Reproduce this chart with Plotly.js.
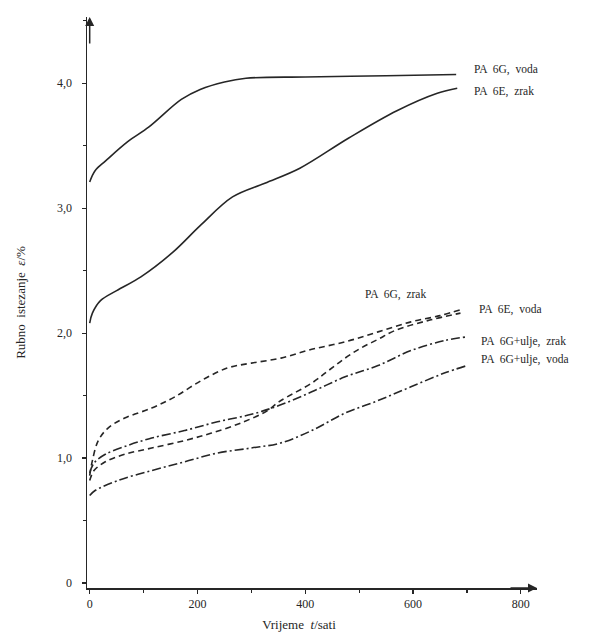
<!DOCTYPE html>
<html>
<head>
<meta charset="utf-8">
<script src="https://cdn.plot.ly/plotly-3.0.1.min.js"></script>
<style>html,body{margin:0;padding:0;background:#fff;}#chart{width:605px;height:639px;}</style>
</head>
<body>
<div id="chart"></div>
<script>
// Series data (time in hours, edge elongation in %)
const pa6gVodaX = [0, 10, 30, 70, 110, 170, 205, 250, 290, 400, 550, 680];
const pa6gVodaY = [3.21, 3.30, 3.38, 3.53, 3.65, 3.87, 3.95, 4.01, 4.04, 4.05, 4.06, 4.07];

const pa6eZrakX = [0, 5, 20, 50, 95, 155, 205, 265, 325, 390, 480, 570, 645, 682];
const pa6eZrakY = [2.08, 2.16, 2.26, 2.34, 2.45, 2.65, 2.86, 3.09, 3.20, 3.32, 3.56, 3.78, 3.92, 3.96];

const pa6gZrakX = [0, 5, 16, 34, 65, 115, 158, 207, 255, 300, 355, 412, 474, 535, 596, 650, 690];
const pa6gZrakY = [0.86, 0.98, 1.14, 1.24, 1.32, 1.40, 1.49, 1.62, 1.72, 1.76, 1.80, 1.87, 1.93, 2.01, 2.09, 2.14, 2.19];

const pa6eVodaX = [0, 8, 29, 65, 115, 176, 226, 280, 330, 351, 412, 443, 474, 503, 535, 566, 627, 688];
const pa6eVodaY = [0.82, 0.90, 0.97, 1.03, 1.08, 1.14, 1.20, 1.28, 1.38, 1.45, 1.60, 1.70, 1.80, 1.88, 1.95, 2.02, 2.10, 2.16];

const pa6gUljeZrakX = [0, 8, 29, 70, 115, 176, 237, 300, 351, 412, 474, 535, 596, 658, 700];
const pa6gUljeZrakY = [0.88, 0.96, 1.03, 1.10, 1.16, 1.22, 1.29, 1.35, 1.42, 1.53, 1.65, 1.74, 1.86, 1.94, 1.97];

const pa6gUljeVodaX = [0, 10, 52, 115, 176, 237, 299, 354, 412, 474, 535, 596, 658, 700];
const pa6gUljeVodaY = [0.70, 0.74, 0.82, 0.90, 0.97, 1.04, 1.08, 1.12, 1.22, 1.36, 1.46, 1.57, 1.68, 1.74];

const yTickVals = [0, 1, 2, 3, 4];
const yTickText = ["0", "1,0", "2,0", "3,0", "4,0"];
const xTickVals = [0, 200, 400, 600, 800];
const xTickText = ["0", "200", "400", "600", "800"];

const curveLabels = [
  {text: "PA  6G,  voda", x: 710, y: 4.11},
  {text: "PA  6E,  zrak", x: 710, y: 3.93},
  {text: "PA  6G,  zrak", x: 507, y: 2.31},
  {text: "PA  6E,  voda", x: 719, y: 2.19},
  {text: "PA  6G+ulje,  zrak", x: 723, y: 1.93},
  {text: "PA  6G+ulje,  voda", x: 723, y: 1.79}
];

const FONT = "Liberation Serif, Times New Roman, serif";
const INK = "#262626";

function tr(x, y, dash) {
  return {x: x, y: y, type: "scatter", mode: "lines",
    line: {color: INK, width: 1.6, shape: "spline", smoothing: 1, dash: dash},
    hoverinfo: "skip", showlegend: false};
}

const data = [
  tr(pa6gVodaX, pa6gVodaY, "solid"),
  tr(pa6eZrakX, pa6eZrakY, "solid"),
  tr(pa6gZrakX, pa6gZrakY, "6px,4px"),
  tr(pa6eVodaX, pa6eVodaY, "6px,4px"),
  tr(pa6gUljeZrakX, pa6gUljeZrakY, "9px,3px,2px,3px"),
  tr(pa6gUljeVodaX, pa6gUljeVodaY, "9px,3px,2px,3px")
];

const annotations = curveLabels.map(l => ({
  text: l.text, x: l.x, y: l.y, xref: "x", yref: "y",
  xanchor: "left", yanchor: "middle", showarrow: false,
  font: {family: FONT, size: 11.5, color: INK}
}));
// axis arrows
annotations.push({x: 0, y: 4.53, xref: "x", yref: "y", ax: 0, ay: 28, axref: "pixel", ayref: "pixel",
  text: "", showarrow: true, arrowhead: 2, arrowsize: 1.2, arrowwidth: 1.5, arrowcolor: INK});
annotations.push({x: 830, y: -0.04, xref: "x", yref: "y", ax: -28, ay: 0, axref: "pixel", ayref: "pixel",
  text: "", showarrow: true, arrowhead: 2, arrowsize: 1.2, arrowwidth: 1.5, arrowcolor: INK});

const layout = {
  width: 605, height: 639,
  margin: {l: 87, r: 68, t: 17, b: 51},
  paper_bgcolor: "#fff", plot_bgcolor: "#fff",
  font: {family: FONT, size: 12, color: INK},
  showlegend: false,
  xaxis: {
    range: [-5, 830], showgrid: false, zeroline: false,
    showline: true, linecolor: INK, linewidth: 1.5,
    tickmode: "array", tickvals: xTickVals, ticktext: xTickText,
    ticks: "outside", ticklen: 4, tickcolor: INK, tickwidth: 1.2,
    minor: {dtick: 100, tick0: 0, ticks: "outside", ticklen: 3, tickcolor: INK, showgrid: false},
    tickfont: {family: FONT, size: 12, color: INK},
    title: {text: "Vrijeme  <i>t</i>/sati&nbsp;&nbsp;&nbsp;&nbsp;&nbsp;&nbsp;&nbsp;&nbsp;", font: {family: FONT, size: 13, color: INK}, standoff: 10}
  },
  yaxis: {
    range: [-0.04, 4.53], showgrid: false, zeroline: false,
    showline: true, linecolor: INK, linewidth: 1.5,
    tickmode: "array", tickvals: yTickVals, ticktext: yTickText,
    ticks: "outside", ticklen: 4, tickcolor: INK, tickwidth: 1.2,
    minor: {dtick: 0.5, tick0: 0, ticks: "outside", ticklen: 3, tickcolor: INK, showgrid: false},
    ticklabelstandoff: 7,
    tickfont: {family: FONT, size: 12, color: INK},
    title: {text: "Rubno  istezanje  <i>ε</i>/%", font: {family: FONT, size: 13, color: INK}, standoff: 28}
  },
  annotations: annotations
};

Plotly.newPlot("chart", data, layout, {staticPlot: true, displayModeBar: false});
</script>
</body>
</html>
